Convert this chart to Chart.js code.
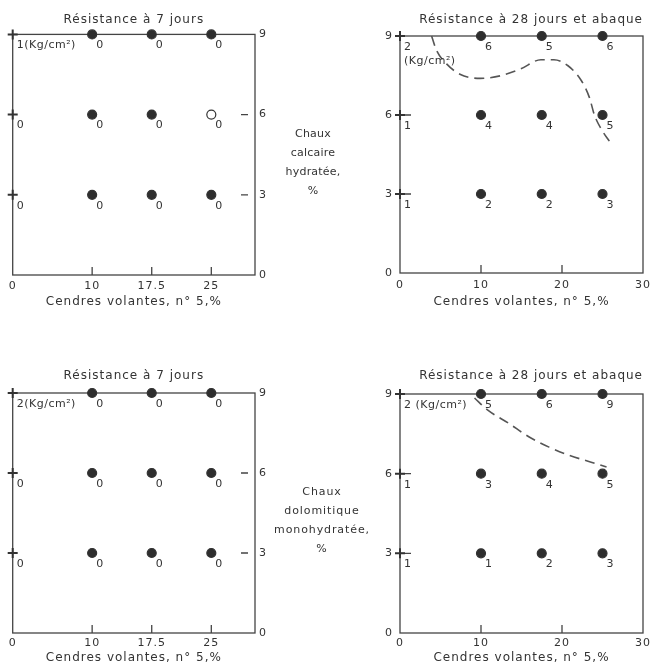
<!DOCTYPE html>
<html>
<head>
<meta charset="utf-8">
<script src="https://cdn.jsdelivr.net/npm/chart.js@4.4.1/dist/chart.umd.min.js"></script>
<style>
body { margin: 0; background: #fff; width: 651px; height: 668px; position: relative; overflow: hidden;
       font-family: "DejaVu Sans", sans-serif; color: #333; }
canvas { position: absolute; }
.side { position: absolute; width: 90px; text-align: center; font-size: 11px; line-height: 19px; color: #333; }
</style>
</head>
<body>
<canvas id="c1" width="300" height="320" style="left:0;top:0"></canvas>
<canvas id="c2" width="311" height="320" style="left:340px;top:0"></canvas>
<canvas id="c3" width="300" height="333" style="left:0;top:335px"></canvas>
<canvas id="c4" width="311" height="333" style="left:340px;top:335px"></canvas>
<div class="side" style="left:268px;top:124px;letter-spacing:0.2px">Chaux<br>calcaire<br>hydratée,<br>%</div>
<div class="side" style="left:272px;top:482px;width:100px;letter-spacing:0.9px">Chaux<br>dolomitique<br>monohydratée,<br>%</div>

<script>
// grid of the test points
const xCats = [0, 10, 17.5, 25];      // cendres volantes, %
const yLevels = [9, 6, 3];            // chaux, %

// strengths (Kg/cm2), one row per chaux level (9, 6, 3)
const calc7 = [[1, 0, 0, 0], [0, 0, 0, 0], [0, 0, 0, 0]];
const calc28 = [[2, 6, 5, 6], [1, 4, 4, 5], [1, 2, 2, 3]];
const dolo7 = [[2, 0, 0, 0], [0, 0, 0, 0], [0, 0, 0, 0]];
const dolo28 = [[2, 5, 6, 9], [1, 3, 4, 5], [1, 1, 2, 3]];
const unitText = '(Kg/cm²)';

// abaque curves (dashed)
const abaqueCalcX = [3.9, 4.5, 5.75, 7.4, 9.9, 12.4, 14.9, 17.4, 19.0, 20.7, 22.4, 23.4, 24.0, 24.9, 25.9];
const abaqueCalcY = [9.0, 8.46, 7.94, 7.55, 7.39, 7.49, 7.75, 8.1, 8.1, 7.88, 7.3, 6.65, 6.0, 5.44, 4.98];
const abaqueDoloX = [9.2, 10.8, 13.4, 15.9, 18.4, 20.9, 23.5, 25.5];
const abaqueDoloY = [8.85, 8.4, 7.9, 7.39, 7.0, 6.69, 6.44, 6.25];

// axis ticks
const xTicks7 = [0, 10, 17.5, 25];
const xTicks28 = [0, 10, 20, 30];
const yTicks = [0, 3, 6, 9];

const FONT = '"DejaVu Sans", sans-serif';
const INK = '#333';

function buildPoints(vals, unitLines) {
    const pts = [];
    yLevels.forEach((y, r) => {
        xCats.forEach((x, c) => {
            let txt = [String(vals[r][c])];
            if (x === 0 && r === 0) txt = unitLines(vals[r][c]);
            pts.push({ x: x, y: y, txt: txt });
        });
    });
    return pts;
}

const panelDecor = {
    id: 'panelDecor',
    beforeDraw(chart) {
        // the lettering of the original is widely spaced
        chart.ctx.letterSpacing = '1px';
    },
    beforeDatasetsDraw(chart, args, opts) {
        const { ctx, chartArea: a, scales: { x, y } } = chart;
        ctx.save();
        ctx.strokeStyle = '#444';
        ctx.lineWidth = 1.3;
        ctx.strokeRect(a.left, a.top, a.width, a.height);
        ctx.beginPath();
        opts.xMarks.forEach(v => {
            const px = x.getPixelForValue(v);
            ctx.moveTo(px, a.bottom);
            ctx.lineTo(px, a.bottom - 8);
        });
        opts.yMarks.forEach(v => {
            const py = y.getPixelForValue(v);
            if (opts.ySide === 'left') {
                ctx.moveTo(a.left, py);
                ctx.lineTo(a.left + 11, py);
            } else {
                ctx.moveTo(a.right - 14, py);
                ctx.lineTo(a.right - 7, py);
            }
        });
        ctx.stroke();
        ctx.restore();
    },
    afterDatasetsDraw(chart) {
        const { ctx } = chart;
        ctx.save();
        ctx.fillStyle = INK;
        ctx.font = '11px ' + FONT;
        ctx.letterSpacing = '0.5px';
        ctx.textAlign = 'left';
        ctx.textBaseline = 'middle';
        chart.data.datasets.forEach((ds, di) => {
            if (!ds.valueLabels) return;
            chart.getDatasetMeta(di).data.forEach((el, i) => {
                const lines = ds.data[i].txt;
                lines.forEach((t, k) => {
                    ctx.fillText(t, el.x + 4, el.y + 11 + k * 14);
                });
            });
        });
        ctx.restore();
    }
};

function makePanel(id, o) {
    const datasets = [{
        data: buildPoints(o.vals, o.unitLines),
        valueLabels: true,
        clip: false,
        pointStyle: c => (c.raw && c.raw.x === 0 ? 'cross' : 'circle'),
        pointRadius: c => (c.raw && c.raw.x === 0 ? 5 : 4.5),
        pointBorderWidth: c => (c.raw && c.raw.x === 0 ? 2 : 1.2),
        pointBackgroundColor: c => (o.openPoint && c.raw && c.raw.x === o.openPoint[0] && c.raw.y === o.openPoint[1] ? '#fff' : '#2e2e2e'),
        pointBorderColor: '#333'
    }];
    if (o.curveX) {
        datasets.push({
            data: o.curveX.map((x, i) => ({ x: x, y: o.curveY[i] })),
            showLine: true,
            clip: false,
            borderColor: '#555',
            borderWidth: 1.6,
            borderDash: [10, 6],
            pointRadius: 0,
            cubicInterpolationMode: 'monotone'
        });
    }
    return new Chart(document.getElementById(id), {
        type: 'scatter',
        data: { datasets: datasets },
        options: {
            responsive: false,
            animation: false,
            events: [],
            layout: { padding: o.pad },
            plugins: {
                legend: { display: false },
                tooltip: { enabled: false },
                title: {
                    display: true,
                    text: o.title,
                    fullSize: false,
                    align: o.titleAlign,
                    color: INK,
                    font: { family: FONT, size: 12, weight: 'normal' },
                    padding: o.titlePad
                },
                panelDecor: { xMarks: o.xMarks, yMarks: [3, 6], ySide: o.ySide }
            },
            scales: {
                x: {
                    type: 'linear',
                    min: 0,
                    max: o.xMax,
                    afterBuildTicks: s => { s.ticks = o.xTicks.map(v => ({ value: v })); },
                    afterFit: s => {
                        s.height = o.xH;
                        s.paddingLeft = 0;
                        s.paddingRight = 0;
                    },
                    grid: { display: false, drawTicks: false },
                    border: { display: false },
                    ticks: { color: INK, font: { family: FONT, size: 11 }, padding: o.xTickPad, maxRotation: 0 },
                    title: {
                        display: true,
                        text: 'Cendres volantes, n° 5,%',
                        color: INK,
                        font: { family: FONT, size: 12 },
                        padding: { top: 0, bottom: o.xTitlePad }
                    }
                },
                y: {
                    type: 'linear',
                    position: o.ySide,
                    min: 0,
                    max: 9,
                    afterBuildTicks: s => { s.ticks = yTicks.map(v => ({ value: v })); },
                    afterFit: s => { s.width = o.yW; },
                    grid: { display: false, drawTicks: false },
                    border: { display: false },
                    ticks: { color: INK, font: { family: FONT, size: 11 }, padding: o.yTickPad }
                }
            }
        },
        plugins: [panelDecor]
    });
}

// Chaux calcaire hydratee, 7 jours
makePanel('c1', {
    vals: calc7, unitLines: v => [v + unitText],
    openPoint: [25, 6],
    title: 'Résistance à 7 jours', titleAlign: 'center', titlePad: { top: 13, bottom: 7 },
    pad: { left: 12.7, top: 0, right: 0, bottom: 0 },
    xMax: 30.5, xTicks: xTicks7, xMarks: [10, 17.5, 25], xH: 45, xTickPad: 5, xTitlePad: 10.8,
    ySide: 'right', yW: 45, yTickPad: 4
});

// Chaux calcaire hydratee, 28 jours et abaque
makePanel('c2', {
    vals: calc28, unitLines: v => [String(v), unitText],
    curveX: abaqueCalcX, curveY: abaqueCalcY,
    title: 'Résistance à 28 jours et abaque', titleAlign: 'end', titlePad: { top: 13, bottom: 8.6 },
    pad: { left: 0, top: 0, right: 8, bottom: 0 },
    xMax: 30, xTicks: xTicks28, xMarks: [10, 20], xH: 47, xTickPad: 6, xTitlePad: 10.8,
    ySide: 'left', yW: 60, yTickPad: 7
});

// Chaux dolomitique monohydratee, 7 jours
makePanel('c3', {
    vals: dolo7, unitLines: v => [v + unitText],
    title: 'Résistance à 7 jours', titleAlign: 'center', titlePad: { top: 33.8, bottom: 9.8 },
    pad: { left: 12.7, top: 0, right: 0, bottom: 0 },
    xMax: 30.5, xTicks: xTicks7, xMarks: [10, 17.5, 25], xH: 35, xTickPad: 4, xTitlePad: 2.8,
    ySide: 'right', yW: 45, yTickPad: 4
});

// Chaux dolomitique monohydratee, 28 jours et abaque
makePanel('c4', {
    vals: dolo28, unitLines: v => [v + ' ' + unitText],
    curveX: abaqueDoloX, curveY: abaqueDoloY,
    title: 'Résistance à 28 jours et abaque', titleAlign: 'end', titlePad: { top: 33.8, bottom: 10.8 },
    pad: { left: 0, top: 0, right: 8, bottom: 0 },
    xMax: 30, xTicks: xTicks28, xMarks: [10, 20], xH: 35, xTickPad: 4, xTitlePad: 2.8,
    ySide: 'left', yW: 60, yTickPad: 7
});
</script>
</body>
</html>
